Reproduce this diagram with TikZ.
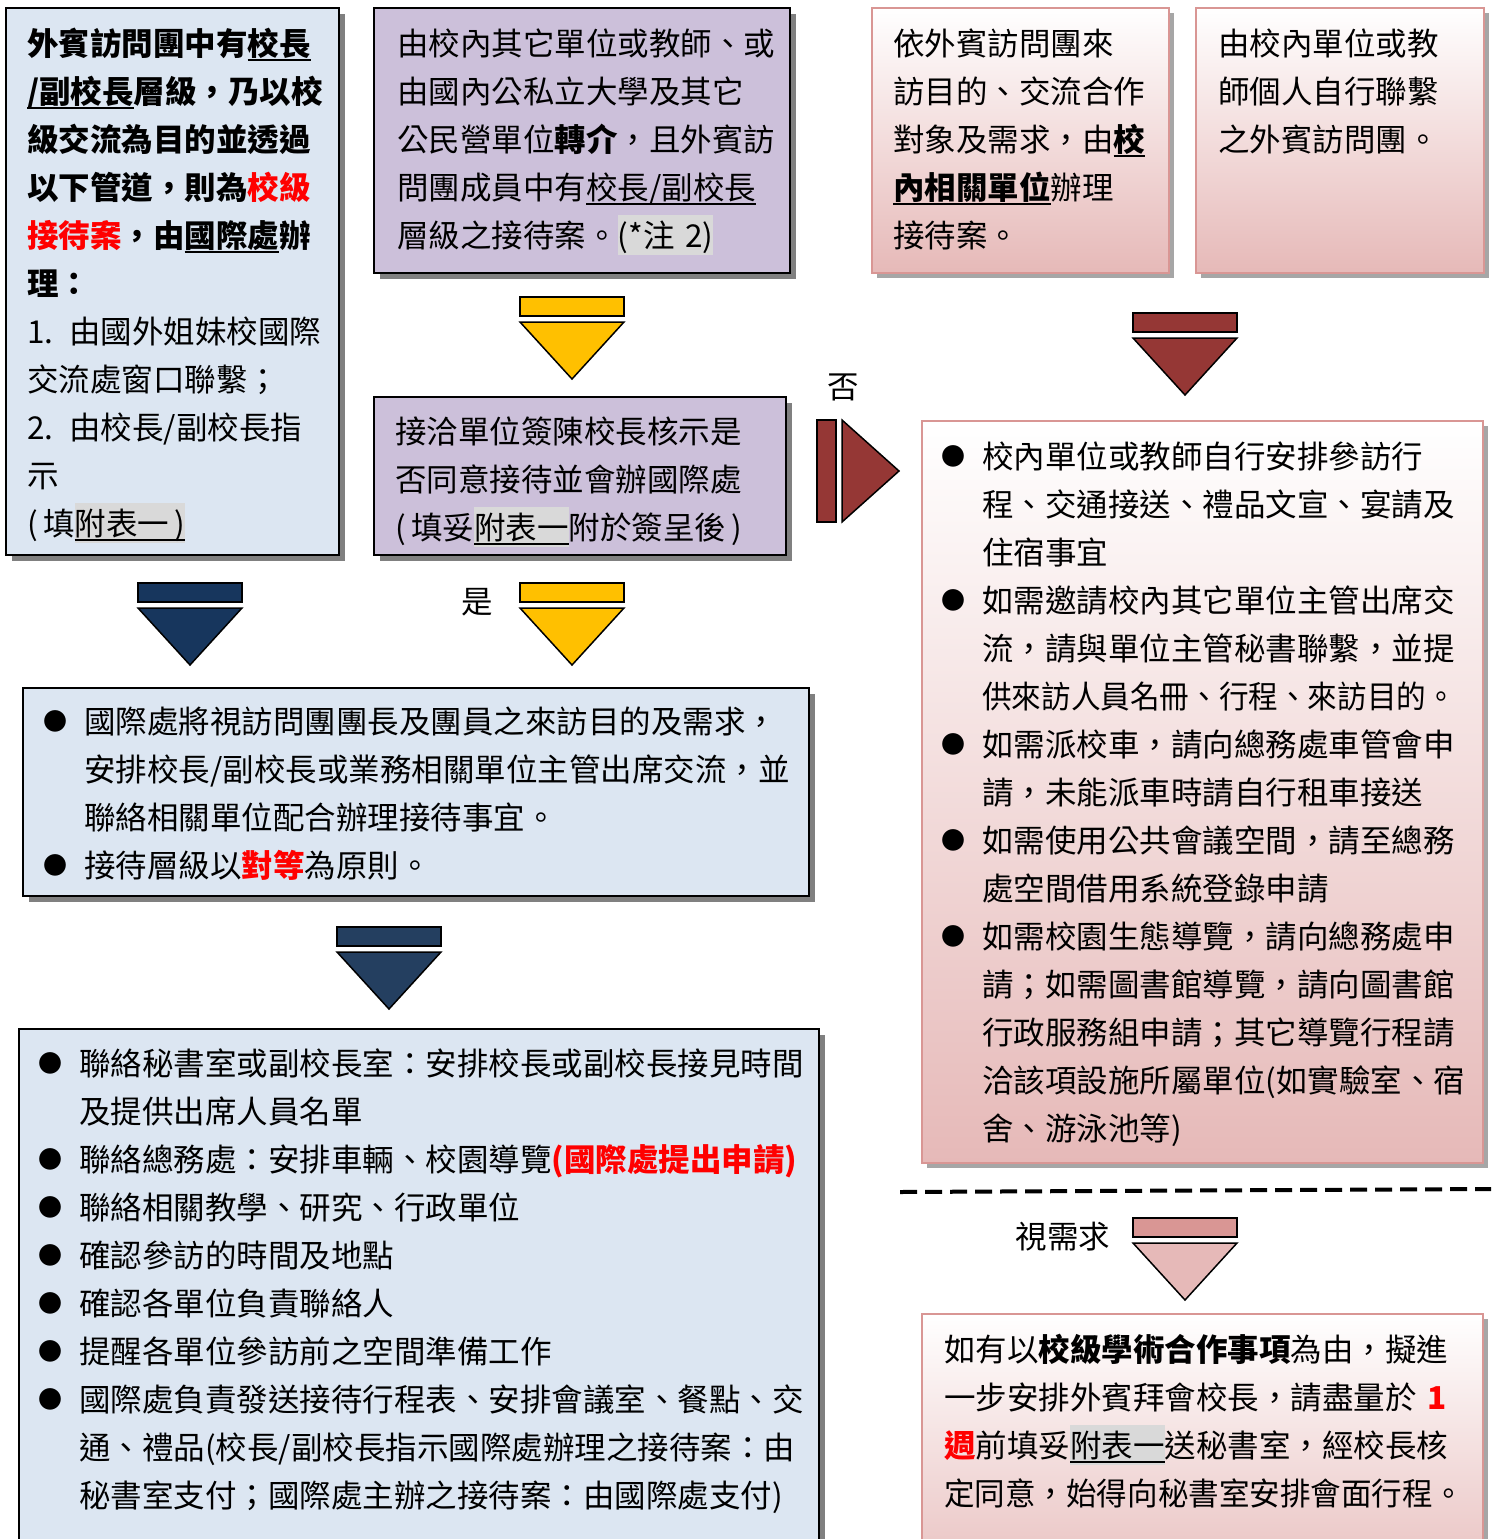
\documentclass[tikz,border=0pt]{standalone}
\usepackage{fontspec}
\usepackage{graphicx}
\setmainfont{Noto Sans CJK TC}
\usetikzlibrary{positioning,shadows}

\definecolor{boxblue}{HTML}{DCE6F2}
\definecolor{boxpurple}{HTML}{CCC0DA}
\definecolor{pinkfill}{HTML}{E6B9B8}
\definecolor{pinkbar}{HTML}{D99694}
\definecolor{pinkline}{HTML}{D99694}
\definecolor{arrowyellow}{HTML}{FFC000}
\definecolor{navyA}{HTML}{17365D}
\definecolor{navyB}{HTML}{243F60}
\definecolor{brownred}{HTML}{953735}
\definecolor{hlgray}{HTML}{D9D9D9}

\newsavebox\ulsave
\newsavebox\hlsave
\newcommand\ulbox[1]{\sbox\ulsave{#1}\rlap{\rule[-6pt]{\wd\ulsave}{2pt}}\usebox\ulsave}
\newcommand\hlbox[1]{\sbox\hlsave{#1}\rlap{\textcolor{hlgray}{\rule[-8pt]{\wd\hlsave}{40pt}}}\usebox\hlsave}
\newcommand\bul{\makebox[41pt][l]{\raisebox{3pt}{\fontsize{24}{48}\selectfont ●}}}
\newcommand\ind{\hspace*{41pt}}

\tikzstyle{boxline}=[draw=black,line width=2pt,anchor=north west,inner sep=0pt,
  drop shadow={shadow xshift=6pt,shadow yshift=-6pt,fill=black!50,opacity=1}]
\tikzstyle{bluebox}=[boxline,fill=boxblue]
\tikzstyle{purplebox}=[boxline,fill=boxpurple]
\tikzstyle{pinkbox}=[draw=pinkline,line width=2pt,anchor=north west,inner sep=0pt,
  top color=white,bottom color=pinkfill,
  drop shadow={shadow xshift=5pt,shadow yshift=-5pt,fill=black!35,opacity=1}]
\tikzstyle{tag}=[inner sep=0pt,font=\fontsize{31.5}{48}\selectfont]
\tikzset{
  boxtext/.style={inner sep=0pt,align=left,text width=#1,font=\fontsize{31.5}{48}\selectfont},
  block/.style={draw=black,line width=1.5pt,fill=#1},
  barfill/.style={},
  downblock/.pic={
    \draw[pic actions,barfill] (-52,0) rectangle (52,19);
    \draw[pic actions] (-52,25) -- (52,25) -- (0,82) -- cycle;
  },
  rightblock/.pic={
    \draw[pic actions] (0,-51) rectangle (19,51);
    \draw[pic actions] (25,-51) -- (25,51) -- (82,0) -- cycle;
  },
}

\begin{document}
\begin{tikzpicture}[x=1pt,y=-1pt]
  \path[use as bounding box,fill=white] (0,0) rectangle (1491,1539);

  \node[bluebox,minimum width=333pt,minimum height=547pt]   (blue1) at (5,7) {};
  \node[purplebox,minimum width=416pt,minimum height=265pt] (purp1) at (373,7) {};
  \node[purplebox,minimum width=412pt,minimum height=158pt] (purp2) at (373,396) {};
  \node[pinkbox,minimum width=297pt,minimum height=265pt]   (pink1) at (871,7) {};
  \node[pinkbox,minimum width=288pt,minimum height=265pt]   (pink2) at (1195,7) {};
  \node[pinkbox,minimum width=561pt,minimum height=742pt]   (pink3) at (921,420) {};
  \node[bluebox,minimum width=786pt,minimum height=208pt]   (blue2) at (22,687) {};
  \node[bluebox,minimum width=800pt,minimum height=600pt]   (blue3) at (18,1028) {};
  \node[pinkbox,minimum width=561pt,minimum height=300pt]   (pink4) at (921,1313) {};

  \node[boxtext=303pt,below right=14.4pt and 22pt of blue1.north west] (blue1t) {%
    \strut\textbf{外賓訪問團中有\ulbox{校長}}\\
    \textbf{\ulbox{/副校長}層級，乃以校}\\
    \textbf{級交流為目的並透過}\\
    \textbf{以下管道，則為\textcolor{red}{校級}}\\
    \textbf{\textcolor{red}{接待案}，由\ulbox{國際處}辦}\\
    \textbf{理：}\\
    1. 由國外姐妹校國際\\
    交流處窗口聯繫；\\
    2. 由校長/副校長指\\
    示\\
    (\,填\hlbox{\ulbox{附表一\,)}}};
  \node[boxtext=386pt,below right=14.4pt and 24pt of purp1.north west] (purp1t) {%
    \strut 由校內其它單位或教師、或\\
    由國內公私立大學及其它\\
    公民營單位\textbf{轉介}，且外賓訪\\
    問團成員中有\ulbox{校長/副校長}\\
    層級之接待案。\hlbox{(*注 2)}};
  \node[boxtext=382pt,below right=13.4pt and 22pt of purp2.north west] (purp2t) {%
    \strut 接洽單位簽陳校長核示是\\
    否同意接待並會辦國際處\\
    (\,填妥\hlbox{\ulbox{附表一}}附於簽呈後\,)};
  \node[boxtext=267pt,below right=14.4pt and 22pt of pink1.north west] (pink1t) {%
    \strut 依外賓訪問團來\\
    訪目的、交流合作\\
    對象及需求，由\textbf{\ulbox{校}}\\
    \textbf{\ulbox{內相關單位}}辦理\\
    接待案。};
  \node[boxtext=258pt,below right=14.4pt and 23pt of pink2.north west] (pink2t) {%
    \strut 由校內單位或教\\
    師個人自行聯繫\\
    之外賓訪問團。};
  \node[boxtext=531pt,below right=14.4pt and 20pt of pink3.north west] (pink3t) {%
    \strut\bul 校內單位或教師自行安排參訪行\\
    \ind 程、交通接送、禮品文宣、宴請及\\
    \ind 住宿事宜\\
    \bul 如需邀請校內其它單位主管出席交\\
    \ind 流，請與單位主管秘書聯繫，並提\\
    \ind \scalebox{0.94}[1]{供來訪人員名冊、行程、來訪目的。}\\
    \bul 如需派校車，請向總務處車管會申\\
    \ind 請，未能派車時請自行租車接送\\
    \bul 如需使用公共會議空間，請至總務\\
    \ind 處空間借用系統登錄申請\\
    \bul 如需校園生態導覽，請向總務處申\\
    \ind 請；如需圖書館導覽，請向圖書館\\
    \ind 行政服務組申請；其它導覽行程請\\
    \ind 洽該項設施所屬單位(如實驗室、宿\\
    \ind 舍、游泳池等)};
  \node[boxtext=756pt,below right=12.4pt and 21pt of blue2.north west] (blue2t) {%
    \strut\bul 國際處將視訪問團團長及團員之來訪目的及需求，\\
    \ind 安排校長/副校長或業務相關單位主管出席交流，並\\
    \ind 聯絡相關單位配合辦理接待事宜。\\
    \bul 接待層級以\textcolor{red}{\textbf{對等}}為原則。};
  \node[boxtext=770pt,below right=13.4pt and 20pt of blue3.north west] (blue3t) {%
    \strut\bul 聯絡秘書室或副校長室：安排校長或副校長接見時間\\
    \ind 及提供出席人員名單\\
    \bul 聯絡總務處：安排車輛、校園導覽\textcolor{red}{\textbf{(國際處提出申請)}}\\
    \bul 聯絡相關教學、研究、行政單位\\
    \bul 確認參訪的時間及地點\\
    \bul 確認各單位負責聯絡人\\
    \bul 提醒各單位參訪前之空間準備工作\\
    \bul 國際處負責發送接待行程表、安排會議室、餐點、交\\
    \ind 通、禮品(校長/副校長指示國際處辦理之接待案：由\\
    \ind 秘書室支付；國際處主辦之接待案：由國際處支付)};
  \node[boxtext=531pt,below right=14.4pt and 23pt of pink4.north west] (pink4t) {%
    \strut 如有以\textbf{校級學術合作事項}為由，擬進\\
    一步安排外賓拜會校長，請盡量於 \textcolor{red}{\textbf{1}}\\
    \textcolor{red}{\textbf{週}}前填妥\hlbox{\ulbox{附表一}}送秘書室，經校長核\\
    \scalebox{0.97}[1]{定同意，始得向秘書室安排會面行程。}};

  \pic[block=arrowyellow] at (572,297) {downblock};
  \pic[block=arrowyellow] at (572,583) {downblock};
  \pic[block=navyA] at (190,583) {downblock};
  \pic[block=navyB] at (389,927) {downblock};
  \pic[block=brownred] at (1185,313) {downblock};
  \pic[block=brownred] at (817,471) {rightblock};
  \pic[block=pinkfill,barfill/.style={fill=pinkbar}] at (1185,1218) {downblock};

  \node[tag] (no)     at (843,387)  {否};
  \node[tag] (yes)    at (477,602)  {是};
  \node[tag] (asneed) at (1063,1237) {視需求};

  \coordinate (dashL) at (900,1192);
  \coordinate (dashR) at (1491,1189);
  \draw[line width=4pt,dash pattern=on 17pt off 8pt] (dashL) -- (dashR);
\end{tikzpicture}
\end{document}
